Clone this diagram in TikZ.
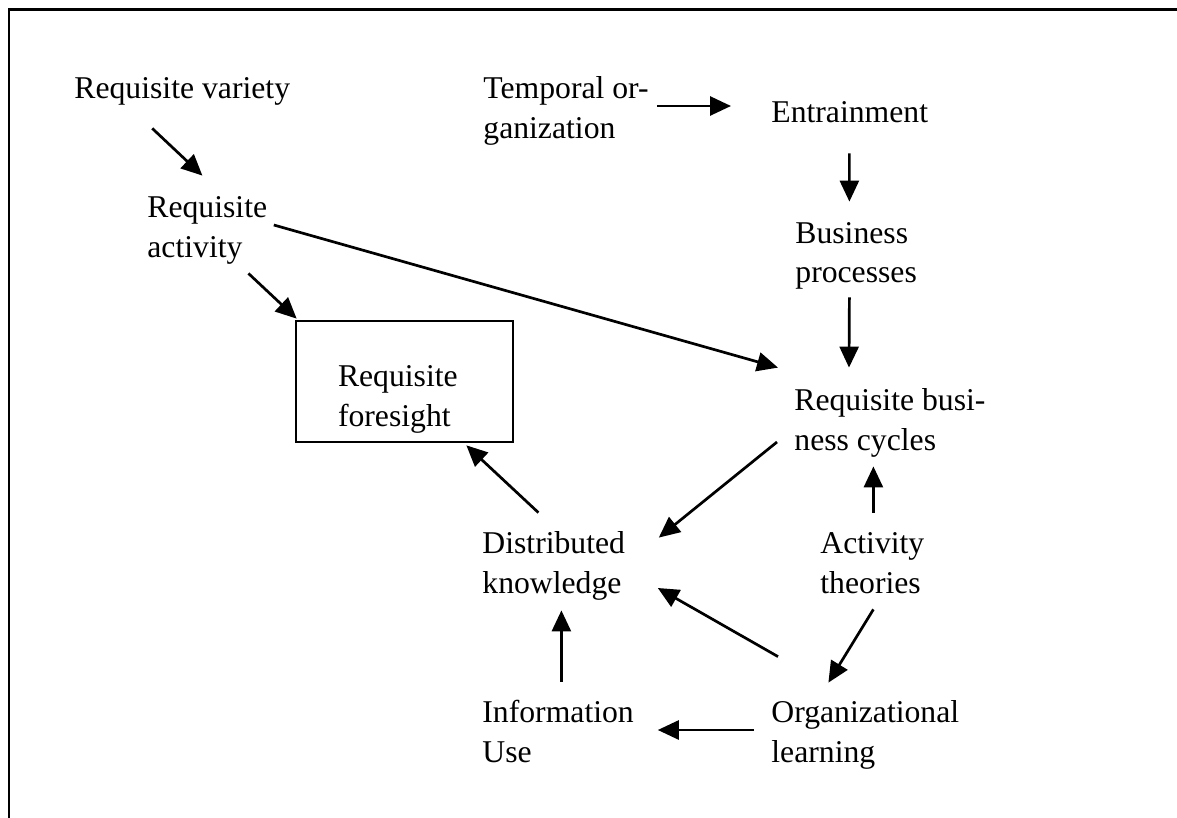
\documentclass[tikz,border=0pt]{standalone}
\usepackage{fontspec}
\setmainfont{Liberation Serif}
\usetikzlibrary{arrows.meta,calc}

\begin{document}
\begin{tikzpicture}[x=0.5pt, y=-0.5pt,
  every node/.style={inner sep=0pt, font=\fontsize{15.85pt}{20pt}\selectfont},
  txt/.style={anchor=base west, align=flush left, text height=11pt, text depth=3.5pt},
  twoline/.style={txt, text width=#1, text depth=23.5pt},
  arr/.style={line width=1.35pt, -{Triangle[length=10.5pt, width=9.5pt]}}]
  \useasboundingbox (0,0) rectangle (1177,818);
  \draw[line width=1.35pt] (1177,9.5) -- (9,9.5) -- (9,818);

  \node[txt] (RV) at (74,99) {Requisite variety};
  \node[twoline=62pt] (RA) at (147,218) {Requisite\\activity};
  \node[draw, line width=1.35pt, align=flush left, text width=66.5pt, text height=28.9pt,
    text depth=23.5pt, minimum width=108.5pt, minimum height=60.5pt] (RF) at (404.5,381.5) {Requisite\\foresight};

  \node[twoline=86pt] (TO) at (483,99) {Temporal or-\\ganization};
  \node[txt] (EN) at (771,123) {Entrainment};
  \node[twoline=63pt] (BP) at (795,243) {Business\\processes};
  \node[twoline=98pt] (RB) at (794,410) {Requisite busi-\\ness cycles};

  \node[twoline=74pt] (DK) at (482,553) {Distributed\\knowledge};
  \node[twoline=54pt] (AT) at (820,553) {Activity\\theories};
  \node[twoline=78pt] (IU) at (482,722) {Information\\Use};
  \node[twoline=97pt] (OL) at (771,722) {Organizational\\learning};

  \draw[arr] ($(RV.south)+(-30,22)$) to ($(RA.north)+(-7,-20)$);
  \draw[arr] ($(RA.south)+(39,8)$) to ($(RF.north west)+(2,-1)$);
  \draw[arr] ($(RA.east)+(2,-5.5)$) to ($(RB.north west)+(-16,-20)$);

  \draw[arr] ($(TO.east)+(1,-5.5)$) to ($(EN.west)+(-40,-9.5)$);
  \draw[arr] ($(EN.south)+(-0.4,23)$) to ($(BP.north)+(-9,-19)$);
  \draw[arr] ($(BP.south)+(-9,7)$) to ($(RB.north west)+(55,-20)$);

  \draw[arr] ($(RB.west)+(-17,19.5)$) to ($(DK.north east)+(28,7)$);
  \draw[arr] ($(DK.north)+(-18,-18)$) to ($(RF.south east)+(-48,2)$);
  \draw[arr] ($(AT.north)+(-1,-18)$) to ($(RB.south)+(-19,9)$);
  \draw[arr] ($(AT.south)+(-1,9)$) to ($(OL.north)+(-40,-17)$);
  \draw[arr] ($(OL.north west)+(7,-43)$) to ($(DK.east)+(27,22.5)$);
  \draw[arr] ($(IU.north)+(1,-18)$) to ($(DK.south)+(5,10)$);
  \draw[arr] ($(OL.west)+(-17,-4.5)$) to ($(IU.east)+(19,-4.5)$);
\end{tikzpicture}
\end{document}
